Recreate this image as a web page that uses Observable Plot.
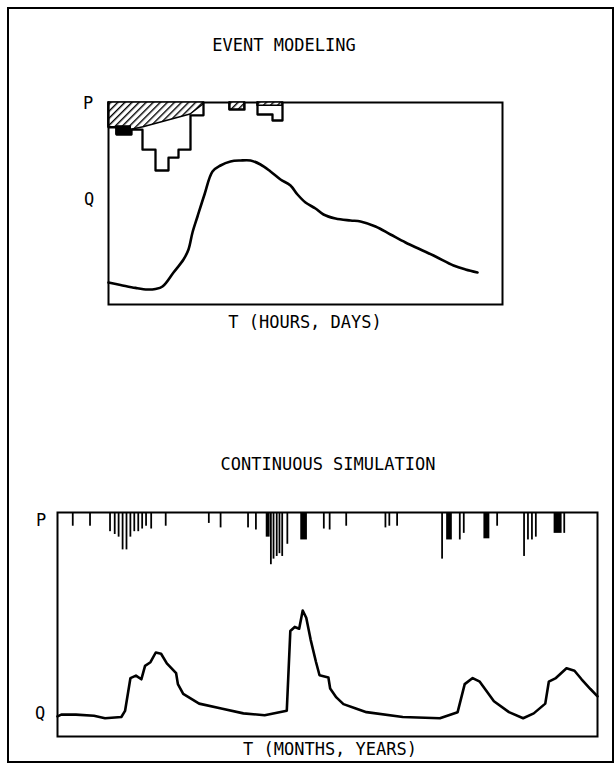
<!DOCTYPE html>
<html><head><meta charset="utf-8">
<script src="https://cdn.jsdelivr.net/npm/d3@7"></script>
<script src="https://cdn.jsdelivr.net/npm/@observablehq/plot@0.6"></script>
<style>
body{margin:0;background:#fff;}
#wrap{position:relative;width:615px;height:765px;overflow:hidden;background:#fff;font-family:"DejaVu Sans Mono",monospace;}
.lbl{position:absolute;font-size:17px;color:#000;white-space:nowrap;line-height:1;transform:translate(-50%,-50%);}
.plot{position:absolute;left:0;top:0;}
.fr{position:absolute;background:#000;}
</style></head><body>
<div id="wrap"></div>
<script>
// ---------- EVENT MODELING data ----------
const evtQT = [0,1.2,2.7,3.9,4.7,5.4,6.5,7.5,8.0,8.4,8.9,9.6,10.4,11.2,12.2,13.2,14.2,15.2,16.2,17.2,18.2,18.9,19.7,20.7,21.5,22.7,24.2,25.2,26.7,28.2,29.7,31.2,32.7,34.5,35.7,36.9];
const evtQ  = [11,9.8,8.3,7.5,7.8,9,16,22.5,27.5,36,44,55,66.5,69.5,71.5,72,72,70,66.5,62.5,59.5,55,51,48,45,43,42,41.5,39,35,31,27.5,24,19.5,17.5,16];
// rainfall blocks (start, end, depth)
const evtPT1 = [0,0.8,2.3,3.4,4.7,6.0,7.0,8.2,12.1,14.9,16.4];
const evtPT2 = [0.8,2.3,3.4,4.7,6.0,7.0,8.2,9.5,13.6,16.4,17.4];
const evtP   = [6.2,8.0,6.8,11.8,17.0,13.8,11.8,3.2,1.8,3.0,4.5];
// losses (hatched)
const lossT = [0,0.8,0.8,2.3,2.3,3.5,8.2,9.5,12.1,13.6,14.9,17.4];
const lossP = [6.2,6.2,8.0,8.0,6.8,6.2,3.0,0.5,1.8,1.8,0.8,0.8];
const lossG = [0,0,0,0,0,0,0,0,1,1,2,2];

// ---------- CONTINUOUS SIMULATION data ----------
const conQT = [0,0.43,2.08,4.12,5.37,7.21,7.63,8.24,8.86,9.47,9.89,10.5,11.1,11.7,12.35,13.4,13.6,14.2,16.0,18.5,21.0,23.4,25.9,26.3,26.8,27.3,27.7,28.1,28.6,29.2,29.6,30.6,30.8,31.5,32.3,33.7,34.9,39.0,43.2,45.2,46.0,46.9,47.7,49.3,51.0,52.6,53.8,55.1,55.5,56.3,57.5,58.4,59.2,60.2,61.0];
const conQ  = [13.5,15,15,14,12,13,18,45,47,44,55,58,66,65,57,49,40,32,24,20,16,14.5,18.2,83.6,87,85.5,100.5,94.5,76.4,58.2,47.3,45.5,36.4,29.1,23.6,20,17,13,12,17,40,45,42,26,17,12,16,24,42,45,53,51,44,36,30];
const conPT1 = [1.68,3.63,5.89,6.42,6.86,7.31,7.75,8.19,8.63,9.08,9.52,9.96,10.54,12.18,17.05,18.38,21.48,22.37,23.58,24.06,24.36,24.72,25.03,25.34,25.92,27.48,30.04,30.70,32.57,37.00,37.44,38.32,43.40,43.96,45.40,45.85,48.17,49.62,52.66,53.10,53.55,53.99,56.10,57.20];
const conPT2 = [1.88,3.83,6.09,6.62,7.06,7.51,7.95,8.39,8.83,9.28,9.72,10.16,10.74,12.38,17.25,18.58,21.68,22.57,24.02,24.26,24.56,24.92,25.23,25.54,26.12,28.23,30.24,30.90,32.77,37.20,37.64,38.52,43.60,44.60,45.60,46.05,48.84,49.82,52.86,53.30,53.75,54.19,57.00,57.40];
const conP   = [9.8,9.8,13.7,15.7,17.6,26.7,26.7,17.6,13.7,13.7,11.8,9.8,11.8,9.8,7.8,11,11,12.5,17.6,37.3,33.3,31.4,29.4,31.4,22.7,19.6,11.8,12.5,9.8,11,9.8,9.8,33.3,19.6,19.6,14.9,18.8,9.8,31.4,19.6,19.6,17.6,14.9,14.9];

// ---------- layout ----------
const W = 615, H = 765;
const wrap = document.getElementById("wrap");
function addLabel(txt, x, y, size){
  const d = document.createElement("div");
  d.className = "lbl"; d.textContent = txt;
  d.style.left = x + "px"; d.style.top = y + "px";
  if (size) d.style.fontSize = size + "px";
  wrap.appendChild(d);
}
function addFrame(l,t,w,h){
  const d = document.createElement("div"); d.className = "fr";
  d.style.left=l+"px"; d.style.top=t+"px"; d.style.width=w+"px"; d.style.height=h+"px";
  wrap.appendChild(d);
}
function mount(svg){ svg.classList.add("plot"); wrap.appendChild(svg); }

// outer frame
addFrame(7,7,607,2); addFrame(7,7,2,755); addFrame(7,761,607,1.5); addFrame(612,7,1.5,755);

const base = (mt, mb, ml, mr) => ({width: W, height: H, marginTop: mt, marginBottom: H - mb, marginLeft: ml, marginRight: W - mr, style: {background: "transparent"}});

// outline points for contiguous rainfall blocks
function outline(t1, t2, p){
  const pts = []; let g = 0;
  for (let i = 0; i < p.length; i++){
    if (i === 0 || t1[i] !== t2[i-1]) { if (i > 0) { pts.push({t: t2[i-1], p: 0, g}); g++; } pts.push({t: t1[i], p: 0, g}); }
    pts.push({t: t1[i], p: p[i], g}); pts.push({t: t2[i], p: p[i], g});
  }
  pts.push({t: t2[p.length-1], p: 0, g});
  return pts;
}

// ---- top chart: Q ----
const TOP = [102, 304, 108, 502];
const evtQData = evtQT.map((t,i)=>({t, q: evtQ[i]}));
mount(Plot.plot({...base(...TOP),
  x: {domain: [0, 39.4], axis: null}, y: {domain: [0, 101], axis: null},
  marks: [
    Plot.frame({stroke: "#000", strokeWidth: 2}),
    Plot.line(evtQData, {x: "t", y: "q", stroke: "#000", strokeWidth: 2.6, curve: "catmull-rom"})
  ]}));
// ---- top chart: P ----
const lossData = lossT.map((t,i)=>({t, p: lossP[i], g: lossG[i]}));
const evtBars = evtP.map((p,i)=>({t1: evtPT1[i], t2: evtPT2[i], p}));
const topP = Plot.plot({...base(...TOP),
  x: {domain: [0, 39.4], axis: null}, y: {domain: [0, 50.5], axis: null, reverse: true},
  marks: [
    Plot.areaY(lossData, {x: "t", y1: 0, y2: "p", z: "g", fill: "url(#hatch)", stroke: "#000", strokeWidth: 1.5}),
    Plot.rectY(evtBars.filter((d,i)=>i===1), {x1: "t1", x2: "t2", y1: 5.8, y2: "p", fill: "#000"}),
    Plot.line(outline(evtPT1, evtPT2, evtP), {x: "t", y: "p", z: "g", stroke: "#000", strokeWidth: 2.3})
  ]});
topP.insertAdjacentHTML("afterbegin", '<defs><pattern id="hatch" width="5" height="5" patternUnits="userSpaceOnUse" patternTransform="rotate(45)"><rect width="5" height="5" fill="#fff"/><line x1="0" y1="0" x2="0" y2="5" stroke="#000" stroke-width="2.8"/></pattern></defs>');
mount(topP);

// ---- bottom chart: Q ----
const BOT = [512, 736, 57, 597];
const conQData = conQT.map((t,i)=>({t, q: conQ[i]}));
mount(Plot.plot({...base(...BOT),
  x: {domain: [0, 61], axis: null}, y: {domain: [-3, 181], axis: null},
  marks: [
    Plot.frame({stroke: "#000", strokeWidth: 2}),
    Plot.line(conQData, {x: "t", y: "q", stroke: "#000", strokeWidth: 2.6})
  ]}));
// ---- bottom chart: P ----
const conBars = conP.map((p,i)=>({t1: conPT1[i], t2: conPT2[i], p}));
mount(Plot.plot({...base(...BOT),
  x: {domain: [0, 61], axis: null}, y: {domain: [0, 160], axis: null, reverse: true},
  marks: [
    Plot.rectY(conBars, {x1: "t1", x2: "t2", y1: 0, y2: "p", fill: "#000", inset: 0})
  ]}));

// ---- texts ----
addLabel("EVENT MODELING", 284, 45);
addLabel("P", 88, 103);
addLabel("Q", 89, 199);
addLabel("T (HOURS, DAYS)", 305, 322);
addLabel("CONTINUOUS SIMULATION", 328, 464);
addLabel("P", 41, 520);
addLabel("Q", 40, 713);
addLabel("T (MONTHS, YEARS)", 330, 749);
</script>
</body></html>
